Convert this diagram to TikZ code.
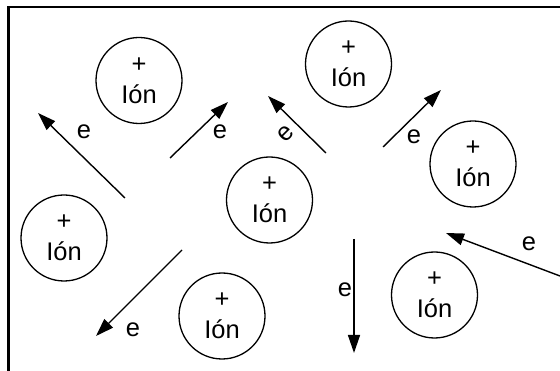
\documentclass[tikz,border=0pt]{standalone}
\usepackage{fontspec}
\setmainfont{Liberation Sans}
\usetikzlibrary{arrows.meta}

\begin{document}
\begin{tikzpicture}[
  x=1pt, y=-1pt,
  font=\fontsize{25.5}{31}\selectfont,
  >={Triangle[length=18pt,width=12pt]},
  ion/.style={circle, draw, line width=1.3pt, minimum size=86pt, inner sep=0pt, align=center},
  flow/.style={->, line width=1.4pt},
  elabel/.style={inner sep=0pt},
]
  % Page
  \useasboundingbox (0,0) rectangle (560,371);
  \clip (0,0) rectangle (560,371);
  \fill[white] (0,0) rectangle (560,371);

  % Frame (right and bottom edges fall outside the page)
  \draw[line width=2.5pt] (8.5,7) rectangle (600,400);

  % Ions
  \foreach \name/\x/\y in {ionA/139/80.5, ionB/348.5/64, ionC/473/164,
                           ionD/269.5/200, ionE/64/238, ionF/222/316, ionG/434.5/295} {
    \node[ion] (\name) at (\x,\y) {+\\Ión};
  }

  % Electron paths: start, tip
  \coordinate (s1) at (125,198);  \coordinate (t1) at (38,113);
  \coordinate (s2) at (170,158);  \coordinate (t2) at (228,102);
  \coordinate (s3) at (326,153);  \coordinate (t3) at (268,96);
  \coordinate (s4) at (383,147);  \coordinate (t4) at (441,90);
  \coordinate (s5) at (560,276);  \coordinate (t5) at (446,233);
  \coordinate (s6) at (354,239);  \coordinate (t6) at (354,353);
  \coordinate (s7) at (182,250);  \coordinate (t7) at (96,336);

  \foreach \i in {1,...,7} {
    \draw[flow] (s\i) -- (t\i);
  }

  % Labels
  \node[elabel] (e1) at (84,132) {e};
  \node[elabel] (e2) at (220,132) {e};
  \node[elabel, rotate=45] (e3) at (286,134) {e};
  \node[elabel] (e4) at (414,137) {e};
  \node[elabel] (e5) at (529,244) {e};
  \node[elabel] (e6) at (345,290) {e};
  \node[elabel] (e7) at (133,330) {e};
\end{tikzpicture}
\end{document}
